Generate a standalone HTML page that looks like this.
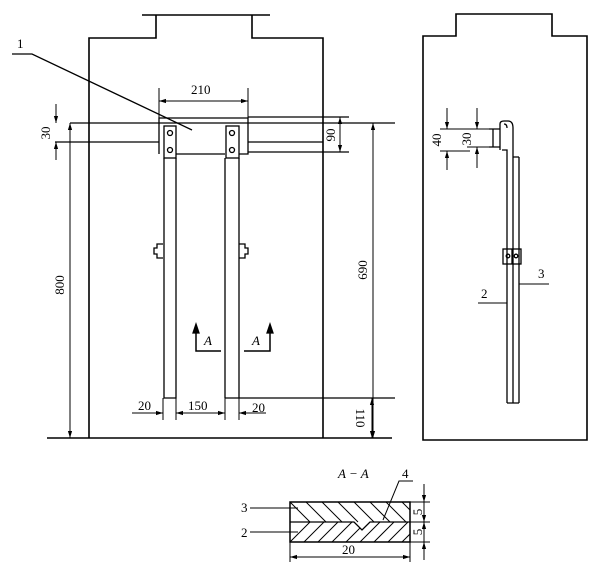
<!DOCTYPE html>
<html><head><meta charset="utf-8"><style>
html,body{margin:0;padding:0;background:#fff;}
svg{display:block;}
text{font-family:"Liberation Serif",serif;font-size:13px;fill:#000;}
</style></head><body>
<svg width="600" height="575" viewBox="0 0 600 575" xmlns="http://www.w3.org/2000/svg">
<defs>
<marker id="a" viewBox="0 0 10 10" refX="10" refY="5" markerWidth="7" markerHeight="7" orient="auto-start-reverse"><path d="M0,2 L10,5 L0,8 z" fill="#000"/></marker>
<clipPath id="top"><polygon points="290,502 410,502 410,522 370,522 362,530 354,522 290,522"/></clipPath>
<clipPath id="bot"><polygon points="290,522 354,522 362,530 370,522 410,522 410,542 290,542"/></clipPath>
</defs>
<g stroke="#000" fill="none" stroke-width="1.3">
<path d="M89,438 V38 H156 V15 M142,15 H270 M252,15 V38 H323 V438" stroke-width="1.6"/>
<line x1="47" y1="438" x2="392" y2="438" stroke-width="1.6"/>
<path d="M12,54 H32 L192,130"/>
<line x1="70" y1="123" x2="395" y2="123"/>
<line x1="55" y1="142" x2="159" y2="142"/>
<line x1="248" y1="142" x2="323" y2="142"/>
<line x1="248" y1="152" x2="349" y2="152"/>
<line x1="248" y1="117" x2="349" y2="117"/>
<path d="M159,154 V118 H248 V154 H239 M176,154 H225"/>
<rect x="164" y="126" width="12" height="32"/>
<rect x="226" y="126" width="13" height="32"/>
<circle cx="170" cy="133" r="2.5"/><circle cx="170" cy="150" r="2.5"/>
<circle cx="232" cy="133" r="2.5"/><circle cx="232" cy="150" r="2.5"/>
<path d="M164,158 V398 H176 V158"/>
<path d="M225,158 V398 M239,158 V398"/>
<line x1="225" y1="398" x2="395" y2="398"/>
<path d="M163,244 H157 V248 H154 V254 H157 V258 H163"/>
<path d="M239,244 H245 V248 H248 V254 H245 V258 H239"/>
<line x1="159" y1="88" x2="159" y2="118" stroke-width="1"/>
<line x1="248" y1="88" x2="248" y2="118" stroke-width="1"/>
<line x1="159" y1="101" x2="248" y2="101" stroke-width="1" marker-start="url(#a)" marker-end="url(#a)"/>
<line x1="56" y1="104" x2="56" y2="123" stroke-width="1" marker-end="url(#a)"/>
<line x1="56" y1="160" x2="56" y2="142" stroke-width="1" marker-end="url(#a)"/>
<line x1="340" y1="117" x2="340" y2="152" stroke-width="1" marker-start="url(#a)" marker-end="url(#a)"/>
<line x1="70" y1="123" x2="70" y2="438" stroke-width="1" marker-start="url(#a)" marker-end="url(#a)"/>
<line x1="373" y1="123" x2="373" y2="438" stroke-width="1" marker-start="url(#a)" marker-end="url(#a)"/>
<line x1="372" y1="398" x2="372" y2="438" stroke-width="1" marker-start="url(#a)" marker-end="url(#a)"/>
<line x1="163" y1="398" x2="163" y2="420" stroke-width="1"/>
<line x1="176" y1="398" x2="176" y2="420" stroke-width="1"/>
<line x1="225" y1="398" x2="225" y2="420" stroke-width="1"/>
<line x1="239" y1="398" x2="239" y2="420" stroke-width="1"/>
<line x1="132" y1="413" x2="163" y2="413" stroke-width="1" marker-end="url(#a)"/>
<line x1="176" y1="413" x2="225" y2="413" stroke-width="1" marker-start="url(#a)" marker-end="url(#a)"/>
<line x1="266" y1="413" x2="239" y2="413" stroke-width="1" marker-end="url(#a)"/>
<path d="M196,330 V351 H221" stroke-width="1.5"/>
<path d="M244,351 H270 V330" stroke-width="1.5"/>
<polygon points="193,333 196,324 199,333" fill="#000"/>
<polygon points="267,333 270,324 273,333" fill="#000"/>

<path d="M423,440 V36 H456 V14 H552 V36 H587 V440 Z" stroke-width="1.6"/>
<path d="M507,403 V157 M519,403 V157 M513,403 V157 M507,403 H519 M513,157 H519"/>
<path d="M500,150 V124 Q500,121 504,121 H508 Q513,121 513,128 V157 M502,150 H507 V157"/>
<path d="M507,128 Q507,124 504,124" />
<path d="M489,129 H500 M489,147 H500 M493,129 V147"/>
<rect x="503" y="249" width="18" height="15"/>
<line x1="512" y1="249" x2="512" y2="264"/>
<circle cx="508" cy="256" r="1.8"/><circle cx="516" cy="256" r="1.8"/>
<line x1="440" y1="129" x2="500" y2="129" stroke-width="1"/>
<line x1="440" y1="151" x2="470" y2="151" stroke-width="1"/>
<line x1="467" y1="147" x2="493" y2="147" stroke-width="1"/>
<line x1="447" y1="108" x2="447" y2="129" stroke-width="1" marker-end="url(#a)"/>
<line x1="447" y1="170" x2="447" y2="151" stroke-width="1" marker-end="url(#a)"/>
<line x1="477" y1="108" x2="477" y2="129" stroke-width="1" marker-end="url(#a)"/>
<line x1="477" y1="168" x2="477" y2="147" stroke-width="1" marker-end="url(#a)"/>
<path d="M519,284 H549" stroke-width="1"/>
<path d="M478,303 H507" stroke-width="1"/>

<g clip-path="url(#top)" stroke-width="1">
<path d="M280,492 l30,30 M296,492 l30,30 M312,492 l30,30 M328,492 l30,30 M344,492 l30,30 M360,492 l30,30 M376,492 l30,30 M392,492 l30,30 M408,492 l30,30"/>
</g>
<g clip-path="url(#bot)" stroke-width="1">
<path d="M280,552 l30,-30 M294,552 l30,-30 M308,552 l30,-30 M322,552 l30,-30 M336,552 l30,-30 M350,552 l30,-30 M364,552 l30,-30 M378,552 l30,-30 M392,552 l30,-30 M406,552 l30,-30"/>
</g>
<rect x="290" y="502" width="120" height="40" stroke-width="1.5"/>
<path d="M290,522 H354 L362,530 L370,522 H410"/>
<line x1="250" y1="508" x2="298" y2="508" stroke-width="1"/>
<line x1="250" y1="532" x2="298" y2="532" stroke-width="1"/>
<path d="M413,481 H399 L383,520" stroke-width="1"/>
<line x1="410" y1="502" x2="430" y2="502" stroke-width="1"/>
<line x1="410" y1="522" x2="430" y2="522" stroke-width="1"/>
<line x1="410" y1="542" x2="430" y2="542" stroke-width="1"/>
<line x1="424" y1="484" x2="424" y2="502" stroke-width="1" marker-end="url(#a)"/>
<line x1="424" y1="502" x2="424" y2="522" stroke-width="1" marker-end="url(#a)"/>
<line x1="424" y1="542" x2="424" y2="522" stroke-width="1" marker-end="url(#a)"/>
<line x1="424" y1="560" x2="424" y2="542" stroke-width="1" marker-end="url(#a)"/>
<line x1="290" y1="542" x2="290" y2="562" stroke-width="1"/>
<line x1="410" y1="542" x2="410" y2="562" stroke-width="1"/>
<line x1="290" y1="557" x2="410" y2="557" stroke-width="1" marker-start="url(#a)" marker-end="url(#a)"/>
</g>

<g>
<text x="17" y="48">1</text>
<text x="191" y="94">210</text>
<text transform="translate(50,133) rotate(-90)" text-anchor="middle">30</text>
<text transform="translate(335,135) rotate(-90)" text-anchor="middle">90</text>
<text transform="translate(64,285) rotate(-90)" text-anchor="middle">800</text>
<text transform="translate(367,270) rotate(-90)" text-anchor="middle">690</text>
<text transform="translate(356,418) rotate(90)" text-anchor="middle">110</text>
<text x="138" y="410">20</text>
<text x="188" y="410">150</text>
<text x="252" y="412">20</text>
<text x="204" y="345" font-style="italic">A</text>
<text x="252" y="345" font-style="italic">A</text>
<text transform="translate(441,140) rotate(-90)" text-anchor="middle">40</text>
<text transform="translate(471,139) rotate(-90)" text-anchor="middle">30</text>
<text x="538" y="278">3</text>
<text x="481" y="298">2</text>
<text x="338" y="478" font-style="italic">A − A</text>
<text x="402" y="478">4</text>
<text x="241" y="512">3</text>
<text x="241" y="537">2</text>
<text transform="translate(422,512) rotate(-90)" text-anchor="middle">5</text>
<text transform="translate(422,532) rotate(-90)" text-anchor="middle">5</text>
<text x="342" y="554">20</text>
</g>
</svg>
</body></html>
